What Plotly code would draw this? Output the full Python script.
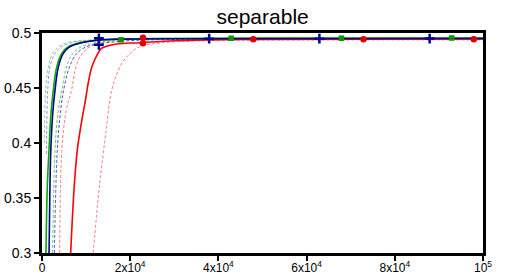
import plotly.graph_objects as go

# ---- data ----
green_mean_x = [900, 1200, 1600, 2000, 2560, 3330, 4470, 5970, 8600, 12400, 17000, 25000, 50000, 100000]
green_mean_y = [0.30, 0.36, 0.395, 0.425, 0.448, 0.469, 0.4815, 0.4876, 0.4912, 0.4932, 0.4944, 0.4950, 0.4953, 0.4954]
green_up_x = [500, 650, 800, 1430, 2200, 3330, 5200, 7900, 10900, 15000, 25000, 100000]
green_up_y = [0.40, 0.43, 0.448, 0.469, 0.480, 0.486, 0.4906, 0.4927, 0.4936, 0.4945, 0.4950, 0.4955]
green_lo_x = [2400, 2950, 3700, 4600, 5600, 7000, 9000, 12000, 17000, 25000, 50000, 100000]
green_lo_y = [0.30, 0.3936, 0.43, 0.45, 0.47, 0.4815, 0.4876, 0.491, 0.4935, 0.4945, 0.4949, 0.4950]

blue_mean_x = [1600, 1800, 2000, 2400, 2950, 3700, 4830, 6350, 9000, 12770, 18000, 30000, 100000]
blue_mean_y = [0.30, 0.36, 0.394, 0.425, 0.448, 0.469, 0.4815, 0.4876, 0.4912, 0.4936, 0.4944, 0.4948, 0.4950]
blue_up_x = [1000, 1100, 1300, 1800, 2950, 4470, 6700, 10100, 15000, 25000, 100000]
blue_up_y = [0.39, 0.42, 0.448, 0.469, 0.4815, 0.4876, 0.4912, 0.4930, 0.4943, 0.4948, 0.4952]
blue_lo_x = [2800, 3470, 4240, 5000, 6300, 7900, 10100, 12800, 18000, 25000, 40000, 100000]
blue_lo_y = [0.30, 0.3936, 0.43, 0.45, 0.47, 0.4815, 0.4876, 0.490, 0.4925, 0.4938, 0.4945, 0.4948]

red_mean_x = [6500, 7300, 8000, 9000, 9900, 10500, 11300, 12300, 13500, 16900, 22200, 30000, 45000, 100000]
red_mean_y = [0.30, 0.36, 0.3936, 0.42, 0.44, 0.455, 0.469, 0.4785, 0.486, 0.490, 0.4912, 0.4930, 0.4942, 0.4945]
red_up_x = [4000, 4500, 5500, 6700, 7500, 8600, 10900, 14700, 19200, 30000, 100000]
red_up_y = [0.30, 0.3936, 0.43, 0.448, 0.466, 0.4785, 0.4876, 0.492, 0.4936, 0.4943, 0.4946]
red_lo_x = [11600, 13000, 14500, 15800, 17700, 19600, 22200, 27000, 35000, 50000, 100000]
red_lo_y = [0.30, 0.36, 0.41, 0.448, 0.4694, 0.480, 0.4876, 0.4910, 0.4928, 0.4935, 0.4937]

blue_mark_x = [12900, 12900, 37900, 62900, 87900]
blue_mark_y = [0.4952, 0.4893, 0.4948, 0.4948, 0.4949]
green_mark_x = [17900, 42900, 67900, 92900]
green_mark_y = [0.4938, 0.4952, 0.4953, 0.4955]
red_mark_x = [22900, 22900, 47900, 72900, 97900]
red_mark_y = [0.4957, 0.4906, 0.4944, 0.4944, 0.4944]

x_tick_vals = [0, 20000, 40000, 60000, 80000, 100000]
x_tick_text = ["0", "2x10<sup>4</sup>", "4x10<sup>4</sup>", "6x10<sup>4</sup>", "8x10<sup>4</sup>", "10<sup>5</sup>"]
y_tick_vals = [0.3, 0.35, 0.4, 0.45, 0.5]
y_tick_text = ["0.3", "0.35", "0.4", "0.45", "0.5"]

GREEN = "rgb(0,170,0)"
NAVY = "rgb(0,0,140)"
RED = "rgb(255,0,0)"

fig = go.Figure()

def dotted(x, y, color):
    fig.add_trace(go.Scatter(x=x, y=y, mode="lines", line=dict(color=color, width=1, dash="3px,2px", shape="spline"),
                             showlegend=False, hoverinfo="skip"))

def solid(x, y, color):
    fig.add_trace(go.Scatter(x=x, y=y, mode="lines", line=dict(color=color, width=1.6, shape="spline"),
                             showlegend=False, hoverinfo="skip"))

dotted(red_up_x, red_up_y, "rgba(255,80,80,0.75)")
dotted(red_lo_x, red_lo_y, "rgba(255,80,80,0.75)")
dotted(green_up_x, green_up_y, "rgba(60,180,60,0.6)")
dotted(green_lo_x, green_lo_y, "rgba(60,180,60,0.75)")
dotted(blue_up_x, blue_up_y, "rgba(80,80,200,0.6)")
dotted(blue_lo_x, blue_lo_y, "rgba(40,40,170,0.8)")
solid(red_mean_x, red_mean_y, RED)
solid(green_mean_x, green_mean_y, GREEN)
solid(blue_mean_x, blue_mean_y, NAVY)

fig.add_trace(go.Scatter(x=red_mark_x, y=red_mark_y, mode="markers",
                         marker=dict(symbol="circle", size=6.5, color="rgb(220,0,0)", line=dict(width=0)),
                         showlegend=False))
fig.add_trace(go.Scatter(x=green_mark_x, y=green_mark_y, mode="markers",
                         marker=dict(symbol="square", size=5.5, color="rgb(0,150,0)", line=dict(width=0)),
                         showlegend=False))
fig.add_trace(go.Scatter(x=blue_mark_x, y=blue_mark_y, mode="markers",
                         marker=dict(symbol="cross-thin", size=7, color=NAVY, line=dict(width=2.5, color=NAVY)),
                         showlegend=False))

fig.update_layout(
    width=507, height=276,
    margin=dict(l=42, r=24, t=33, b=23, autoexpand=False),
    paper_bgcolor="white", plot_bgcolor="white",
    font=dict(family="Liberation Sans, Arial, sans-serif", size=13, color="black"),
    title=dict(text="separable", x=0.518, xanchor="center", y=0.94, yanchor="middle",
               font=dict(size=21, color="black")),
)
fig.update_xaxes(range=[0, 100000], tickvals=x_tick_vals, ticktext=x_tick_text, automargin=False,
                 showline=True, linewidth=3, linecolor="black", mirror=True,
                 ticks="outside", ticklen=5, tickwidth=2, tickcolor="black", ticklabelstandoff=-3,
                 showgrid=False, zeroline=False, tickfont=dict(size=12))
fig.update_yaxes(range=[0.3, 0.5], tickvals=y_tick_vals, ticktext=y_tick_text, automargin=False,
                 showline=True, linewidth=3, linecolor="black", mirror=True,
                 ticks="outside", ticklen=5, tickwidth=2, tickcolor="black",
                 showgrid=False, zeroline=False, tickfont=dict(size=14))

# remove the default 8px page margin so the figure sits at the window's top-left corner
fig.write_html("out.html", config={"displayModeBar": False},
               post_script="document.body.style.margin='0px';")
